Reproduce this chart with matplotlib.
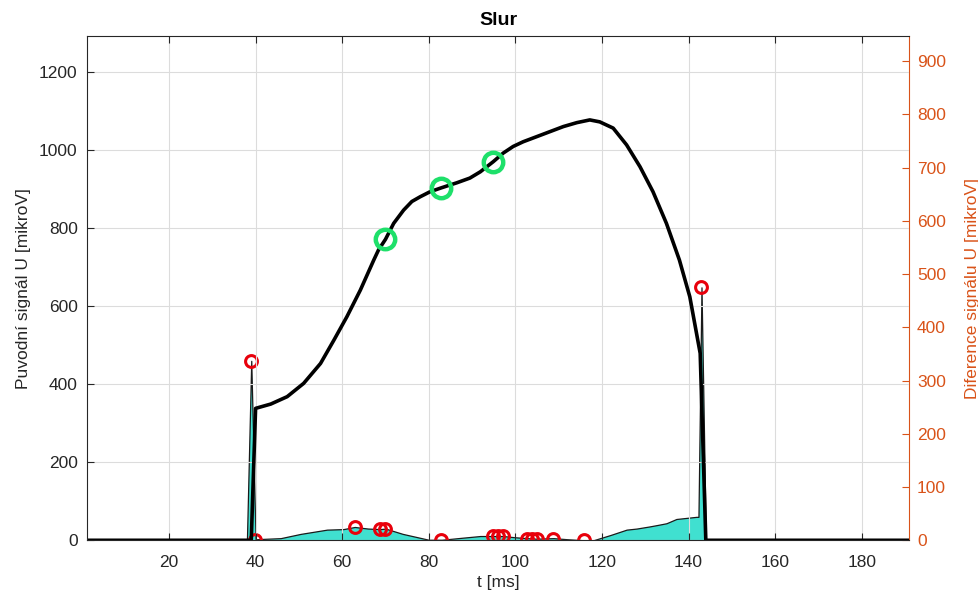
#!/usr/bin/env python3
"""Slur: original signal vs. its difference, two y axes."""

import matplotlib

matplotlib.use("Agg")
import matplotlib.pyplot as plt

plt.rcParams["font.family"] = ["Liberation Sans", "DejaVu Sans"]

# original signal (left axis), t [ms] -> U [mikroV]
sig_t = [1, 39, 40, 43.5, 47.3, 51.1, 55.0, 58.1, 61.1, 64.2, 67.3, 68.4, 70, 71.9, 74.2, 76.1,
         78, 80.3, 82.9, 86.5, 89.5, 91.9, 94.9, 97.2, 99.5, 101.8, 104.9, 108, 111.1, 114.2,
         117.2, 119.5, 122.6, 125.7, 128.8, 131.8, 134.9, 137.9, 140.3, 142.7, 144, 191]
sig_u = [0, 0, 338, 349, 368, 402, 453, 513, 573, 641, 718, 744, 771, 812, 846, 868,
         880, 893, 903, 916, 928, 944, 970, 992, 1009, 1021, 1034, 1047, 1060, 1070,
         1077, 1072, 1056, 1013, 957, 893, 812, 718, 624, 479, 0, 0]

# difference (right axis)
diff_t = [1, 38, 39, 40, 45.8, 50.4, 56.5, 60.3, 62.9, 66, 68.8, 70, 74, 80, 83, 88, 91.9, 95,
          97.2, 99.5, 102.6, 104.9, 108.8, 112, 116, 118, 122, 125.7, 128, 131, 133, 134.9,
          137.2, 139.5, 141.8, 142.3, 143, 144, 191]
diff_u = [0, 0, 337, 2, 4, 12, 20, 21, 25, 22, 21, 22, 12, 1, 1, 5, 8, 8, 8, 6, 4, 3, 4, 2, 0,
          0, 10, 20, 22, 26, 29, 32, 40, 42, 44, 44, 475, 0, 0]

# detected points
red_t = [39, 39.8, 62.9, 68.8, 70, 82.9, 94.9, 96.1, 97.2, 102.6, 103.8, 104.9, 108.8, 115.9, 143]
red_u = [337, 1, 25, 21, 22, 1, 8, 8, 8, 3, 3, 3, 3, 0, 475]
green_t = [70, 82.9, 94.9]
green_u = [771, 903, 970]

x_ticks = list(range(20, 181, 20))
left_ticks = list(range(0, 1201, 200))
right_ticks = list(range(0, 901, 100))

DARK = "#262626"
ORANGE = "#D95319"

fig = plt.figure(figsize=(9.79, 5.98), dpi=100)
ax = fig.add_axes([0.0886, 0.0965, 0.8402, 0.8433])
ax2 = ax.twinx()

# fill under black curve
ax.set_zorder(ax2.get_zorder() + 1)
ax.patch.set_visible(False)

ax2.fill_between(diff_t, diff_u, 0, facecolor="#40E0D0", edgecolor="#1a1a1a", linewidth=0.9)
ax2.plot(red_t, red_u, "o", markersize=8.5, markerfacecolor="none",
         markeredgecolor="#E8000B", markeredgewidth=2.2, zorder=5)

ax.plot(sig_t, sig_u, "-", color="black", linewidth=2.6)
ax.plot(green_t, green_u, "o", markersize=14, markerfacecolor="none",
        markeredgecolor="#1EE06A", markeredgewidth=3.2)

ax.set_xlim(1, 191)
ax.set_ylim(0, 1292)
ax2.set_ylim(0, 947)
ax.set_xticks(x_ticks)
ax.set_yticks(left_ticks)
ax2.set_yticks(right_ticks)

ax.grid(True, color="#dcdcdc", linewidth=0.8)
ax.tick_params(axis="both", direction="in", length=5, width=0.8, colors=DARK,
               labelsize=12.5, top=True, right=False)
ax.tick_params(axis="x", pad=10.5)
ax.tick_params(axis="y", pad=6.5)
ax2.tick_params(axis="y", direction="in", length=5, width=0.8, colors=ORANGE,
                labelsize=12.5, pad=5.5)

for name in ("left", "bottom", "top"):
    ax.spines[name].set_color(DARK)
ax.spines["right"].set_visible(False)
ax2.spines["right"].set_color(ORANGE)
for name in ("left", "bottom", "top"):
    ax2.spines[name].set_visible(False)

ax.set_title("Slur", fontsize=14, fontweight="bold", color="black", pad=8)
ax.set_xlabel("t [ms]", fontsize=12.5, color=DARK, labelpad=4)
ax.set_ylabel("Puvodní signál U [mikroV]", fontsize=12.5, color=DARK, labelpad=6)
ax2.set_ylabel("Diference signálu U [mikroV]", fontsize=12.5, color=ORANGE, labelpad=14)

fig.savefig("out.png", dpi=100)
